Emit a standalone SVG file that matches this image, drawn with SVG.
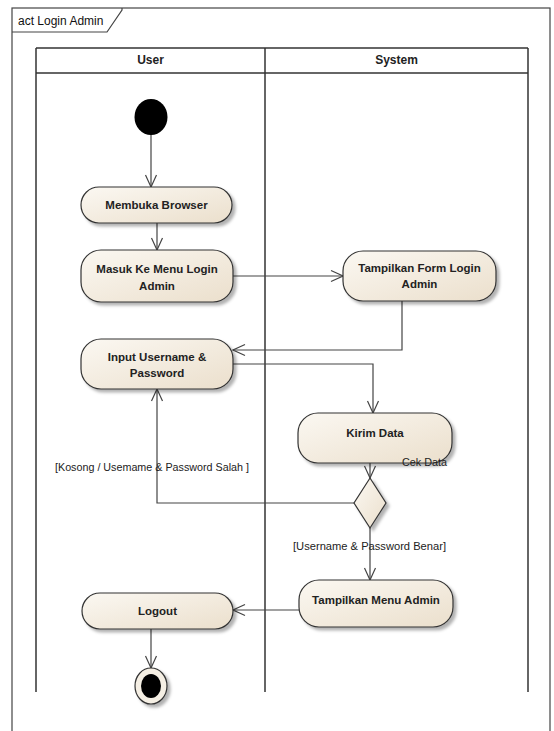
<svg xmlns="http://www.w3.org/2000/svg" width="554" height="731" viewBox="0 0 554 731">
<defs>
<linearGradient id="g" x1="0" y1="0" x2="1" y2="1">
<stop offset="0" stop-color="#fbf8f2"/>
<stop offset="1" stop-color="#ebdfcc"/>
</linearGradient>
<filter id="sh" x="-10%" y="-20%" width="130%" height="150%">
<feDropShadow dx="3" dy="3" stdDeviation="1.5" flood-color="#000" flood-opacity="0.3"/>
</filter>
<marker id="ar" markerUnits="userSpaceOnUse" markerWidth="14" markerHeight="14" viewBox="0 0 14 14" refX="13" refY="7" orient="auto">
<path d="M1,1.5 L13,7 L1,12.5" fill="none" stroke="#444" stroke-width="1.2"/>
</marker>
</defs>
<style>
.frame{fill:none;stroke:#444;stroke-width:1.2}
.lane{fill:none;stroke:#333;stroke-width:1.5}
.act{fill:url(#g);stroke:#333;stroke-width:1.2;filter:url(#sh)}
.t{font-family:"Liberation Sans",Arial,sans-serif;font-size:11.5px;font-weight:bold;fill:#222;text-anchor:middle}
.h{font-family:"Liberation Sans",Arial,sans-serif;font-size:12px;font-weight:bold;fill:#222;text-anchor:middle}
.l{font-family:"Liberation Sans",Arial,sans-serif;font-size:11.5px;fill:#222}
.c{fill:none;stroke:#444;stroke-width:1.2;marker-end:url(#ar)}
</style>
<rect x="0" y="0" width="554" height="731" fill="#fff"/>
<g id="frame">
<rect class="frame" x="12" y="8" width="538" height="740"/>
<path class="frame" d="M12,32 L107,32 L122,10 L122,8" fill="#fff"/>
<text x="18" y="25" class="l" style="font-size:12px;fill:#111">act Login Admin</text>
</g>
<g id="lanes">
<line class="lane" x1="36" y1="48" x2="528" y2="48"/>
<line class="lane" x1="36" y1="73" x2="528" y2="73"/>
<line class="lane" x1="36" y1="48" x2="36" y2="692"/>
<line class="lane" x1="265" y1="48" x2="265" y2="692"/>
<line class="lane" x1="528" y1="48" x2="528" y2="692"/>
<text class="h" x="150.5" y="64">User</text>
<text class="h" x="396.5" y="64">System</text>
</g>
<g id="connectors">
<path class="c" d="M151,134 L151,187"/>
<path class="c" d="M157,223 L157,250"/>
<path class="c" d="M233,276 L343,276"/>
<path class="c" d="M402,301 L402,350 L233,350"/>
<path class="c" d="M233,364 L373,364 L373,413"/>
<path class="c" d="M370,463 L370,478"/>
<path class="c" d="M354,503 L157,503 L157,389"/>
<path class="c" d="M370,528 L370,580"/>
<path class="c" d="M299,610 L233,610"/>
<path class="c" d="M151,629 L151,668"/>
</g>
<g id="initial">
<ellipse cx="151" cy="117" rx="16.5" ry="18" fill="#000"/>
</g>
<g id="membuka">
<rect class="act" x="81" y="187" width="151" height="36" rx="18"/>
<text class="t" x="156.5" y="209">Membuka Browser</text>
</g>
<g id="masuk">
<rect class="act" x="81" y="250" width="152" height="52" rx="20"/>
<text class="t" x="157" y="273">Masuk Ke Menu Login</text>
<text class="t" x="157" y="290">Admin</text>
</g>
<g id="tampilForm">
<rect class="act" x="343" y="251" width="153" height="50" rx="20"/>
<text class="t" x="419.5" y="272">Tampilkan Form Login</text>
<text class="t" x="419.5" y="288">Admin</text>
</g>
<g id="input">
<rect class="act" x="81" y="339" width="152" height="50" rx="20"/>
<text class="t" x="157" y="361">Input Username &amp;</text>
<text class="t" x="157" y="377">Password</text>
</g>
<g id="kirim">
<rect class="act" x="298" y="413" width="154" height="50" rx="20"/>
<text class="t" x="375" y="437">Kirim Data</text>
</g>
<g id="decision">
<polygon class="act" points="370,478 386,503 370,528 354,503"/>
</g>
<g id="tampilMenu">
<rect class="act" x="299" y="580" width="154" height="47" rx="20"/>
<text class="t" x="376" y="604">Tampilkan Menu Admin</text>
</g>
<g id="logout">
<rect class="act" x="82" y="593" width="151" height="36" rx="18"/>
<text class="t" x="157.5" y="615">Logout</text>
</g>
<g id="final">
<ellipse cx="151" cy="686" rx="16" ry="18" fill="#f5efe4" stroke="#333" stroke-width="1.2" filter="url(#sh)"/>
<ellipse cx="151" cy="686" rx="10" ry="12" fill="#000"/>
</g>
<g id="labels">
<text class="l" x="55" y="471" textLength="194" lengthAdjust="spacingAndGlyphs">[Kosong / Usemame &amp; Password Salah ]</text>
<text class="l" x="293" y="550" textLength="153" lengthAdjust="spacingAndGlyphs">[Username &amp; Password Benar]</text>
<text class="l" x="402" y="466" textLength="45" lengthAdjust="spacingAndGlyphs">Cek Data</text>
</g>
</svg>
